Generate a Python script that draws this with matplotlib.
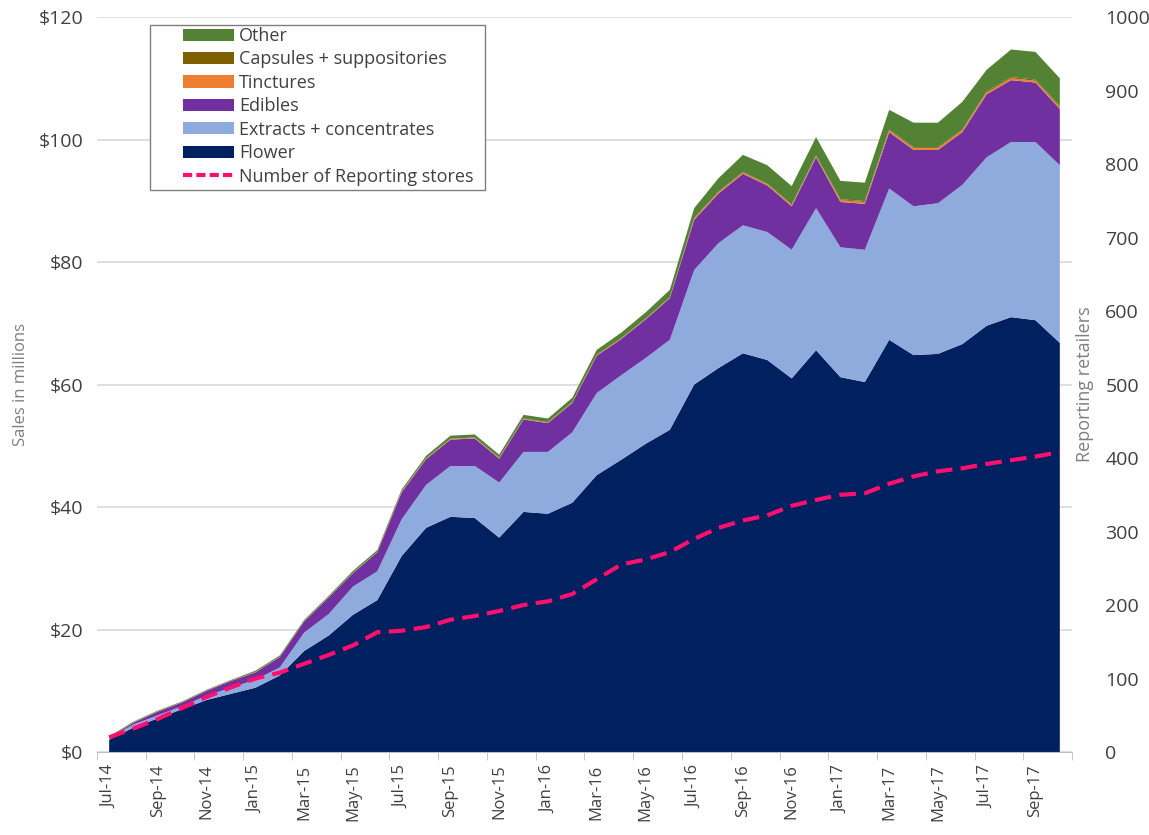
import numpy as np
import pandas as pd
import matplotlib
matplotlib.use("Agg")
import matplotlib.pyplot as plt
from matplotlib.patches import Patch, Rectangle
from matplotlib.lines import Line2D

plt.rcParams['font.family'] = ['Open Sans', 'DejaVu Sans']

# Meses (Jul-14 a Oct-17)
meses = pd.date_range('2014-07-01', periods=40, freq='MS').strftime('%b-%y').tolist()

# Ventas mensuales en millones de dólares, por categoría
flower = [2.0, 4.0, 5.5, 7.0, 8.5, 9.5, 10.5, 12.5, 16.5, 19.0,
          22.4, 24.8, 32.0, 36.6, 38.4, 38.2, 35.0, 39.2, 38.9, 40.7,
          45.2, 47.7, 50.3, 52.6, 60.0, 62.7, 65.1, 64.0, 61.0, 65.6,
          61.2, 60.4, 67.3, 64.8, 65.0, 66.6, 69.6, 71.0, 70.5, 66.8]
extracts = [0.3, 0.5, 0.5, 0.5, 0.7, 1.0, 1.3, 1.3, 3.0, 3.5,
            4.6, 4.7, 6.0, 7.0, 8.3, 8.5, 9.0, 9.8, 10.1, 11.5,
            13.4, 13.8, 14.0, 14.7, 18.7, 20.4, 20.9, 20.9, 21.0, 23.2,
            21.2, 21.6, 24.7, 24.3, 24.6, 26.0, 27.5, 28.6, 29.1, 29.0]
edibles = [0.1, 0.3, 0.6, 0.6, 0.8, 1.1, 1.2, 1.7, 1.8, 2.7,
           2.2, 3.1, 4.4, 4.2, 4.3, 4.5, 3.9, 5.3, 4.7, 4.8,
           6.1, 5.9, 6.3, 6.8, 8.2, 8.1, 8.4, 7.6, 7.1, 8.3,
           7.4, 7.5, 9.2, 9.2, 8.7, 8.6, 10.3, 10.1, 9.7, 9.2]
tinctures = [0.05] * 12 + [0.1] * 12 + [0.2] * 6 + [0.3] * 10
capsules = [0.02] * 12 + [0.05] * 12 + [0.1] * 6 + [0.15] * 6 + [0.2] * 4
other = [0.1, 0.1, 0.1, 0.1, 0.1, 0.1, 0.2, 0.2, 0.2, 0.2,
         0.3, 0.3, 0.3, 0.4, 0.5, 0.5, 0.5, 0.6, 0.6, 0.7,
         0.8, 0.9, 1.0, 1.2, 1.6, 2.2, 2.8, 3.0, 3.0, 3.0,
         3.0, 3.0, 3.2, 4.0, 4.0, 4.5, 3.5, 4.5, 4.5, 4.5]

# Número de tiendas que reportan
tiendas = [20, 32, 45, 60, 75, 88, 100, 108, 120, 132,
           145, 163, 165, 170, 180, 185, 192, 200, 205, 215,
           235, 255, 262, 272, 290, 305, 315, 322, 335, 343,
           350, 352, 365, 375, 382, 386, 392, 397, 402, 408]

nombres = ['Flower', 'Extracts + concentrates', 'Edibles', 'Tinctures',
           'Capsules + suppositories', 'Other']
colores = ['#002060', '#8FAADC', '#7030A0', '#ED7D31', '#7F6000', '#548235']
rosa = '#FF0F6E'
gris = '#404040'

x = np.arange(len(meses))

fig = plt.figure(figsize=(11.49, 8.35), dpi=100)
ax = fig.add_axes([0.0844, 0.0994, 0.8486, 0.8802])
ax2 = ax.twinx()

ax.stackplot(x, flower, extracts, edibles, tinctures, capsules, other,
             colors=colores, linewidth=0)
ax2.plot(x, tiendas, color=rosa, linestyle=(0, (4, 2)), linewidth=3)

ax.set_xlim(-0.45, 39.4)
ax.set_ylim(0, 120)
ax2.set_ylim(0, 1000)

# Rejilla y ejes
ax.set_yticks(np.arange(0, 121, 20))
ax.set_yticklabels([f'${v}' for v in range(0, 121, 20)])
ax.yaxis.grid(True, color='#D9D9D9', linewidth=1.2)
ax.set_axisbelow(True)
ax2.set_yticks(np.arange(0, 1001, 100))

for a in (ax, ax2):
    for lado in ['top', 'left', 'right']:
        a.spines[lado].set_visible(False)
ax.spines['bottom'].set_color('#BFBFBF')
ax2.spines['bottom'].set_visible(False)

ax.set_xticks(x[::2])
ax.set_xticklabels(meses[::2], rotation=90)
ax.set_xticks(np.arange(-0.5, 40, 2), minor=True)
ax.tick_params(axis='x', which='major', length=0, pad=9, labelsize=12, labelcolor=gris)
ax.tick_params(axis='x', which='minor', length=6, color='#BFBFBF')
ax.tick_params(axis='y', length=0, pad=10, labelsize=14, labelcolor=gris)
ax2.tick_params(axis='y', length=0, pad=24, labelsize=14, labelcolor=gris)

ax.set_ylabel('Sales in millions', fontsize=12, color='#7F7F7F')
ax.yaxis.set_label_coords(-0.07, 0.5)
ax2.set_ylabel('Reporting retailers', fontsize=13, color='#7F7F7F')
ax2.yaxis.set_label_coords(1.004, 0.5)

# Leyenda (marco dibujado aparte, con margen izquierdo amplio)
marco = Rectangle((150 / 1149, 1 - 190 / 835), 335 / 1149, 165 / 835,
                  transform=fig.transFigure, facecolor='white',
                  edgecolor='#7F7F7F', linewidth=1, zorder=4)
ax2.add_patch(marco)
handles = [Patch(facecolor=c) for c in colores[::-1]]
handles.append(Line2D([0], [0], color=rosa, linestyle=(0, (2.2, 1)), linewidth=3))
etiquetas = nombres[::-1] + ['Number of Reporting stores']
leg = ax2.legend(handles, etiquetas, loc='upper left',
                 bbox_to_anchor=(183 / 1149, 1 - 27 / 835),
                 bbox_transform=fig.transFigure, borderaxespad=0, borderpad=0,
                 fontsize=13, labelspacing=0.3, handlelength=2.8,
                 handleheight=0.65, handletextpad=0.3, frameon=False)
leg.set_zorder(5)
for t in leg.get_texts():
    t.set_color(gris)

fig.savefig('out.png', dpi=100)
